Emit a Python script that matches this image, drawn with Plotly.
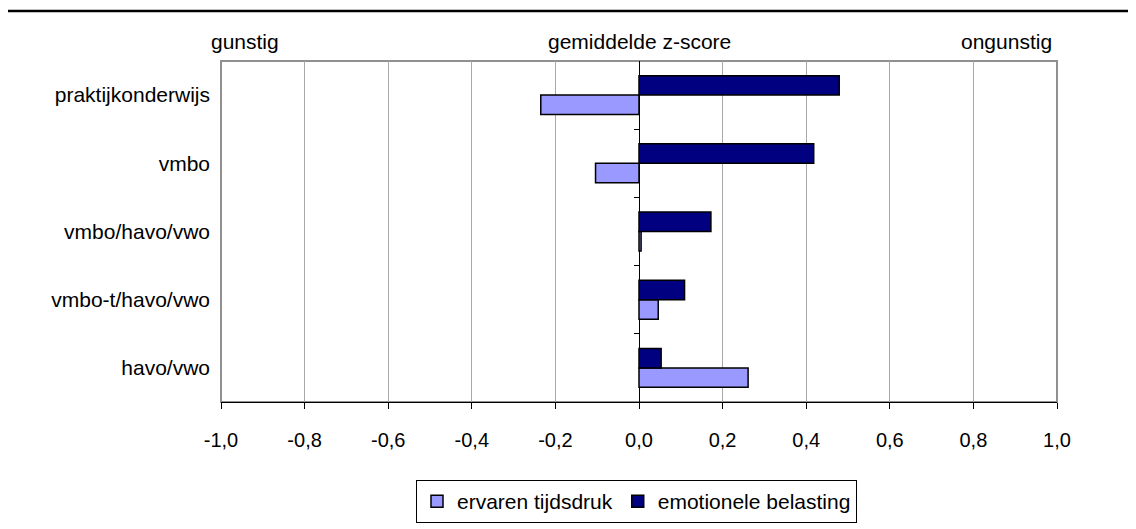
import plotly.graph_objects as go

categories = ["praktijkonderwijs", "vmbo", "vmbo/havo/vwo", "vmbo-t/havo/vwo", "havo/vwo"]
ervaren_tijdsdruk = [-0.235, -0.104, 0.005, 0.046, 0.261]
emotionele_belasting = [0.479, 0.418, 0.172, 0.109, 0.053]
x_tickvals = [-1.0, -0.8, -0.6, -0.4, -0.2, 0.0, 0.2, 0.4, 0.6, 0.8, 1.0]
x_ticktext = ["-1,0", "-0,8", "-0,6", "-0,4", "-0,2", "0,0", "0,2", "0,4", "0,6", "0,8", "1,0"]
boundary_ticks = [0.5, 1.5, 2.5, 3.5]

FONT = "Liberation Sans, Arial, sans-serif"
FS = 21

W, H = 1128, 521
L, R, T, B = 213, 79, 53, 127
PW, PH = W - L - R, H - T - B


def px(xp):  # page x -> paper
    return (xp - 8 - L) / PW


def py(yp):  # page y -> paper
    return (H - B - (yp - 8)) / PH


fig = go.Figure()
fig.add_trace(go.Bar(
    y=categories, x=ervaren_tijdsdruk, orientation="h", name="ervaren tijdsdruk",
    marker=dict(color="#9999FF", line=dict(color="black", width=1.5)),
))
fig.add_trace(go.Bar(
    y=categories, x=emotionele_belasting, orientation="h", name="emotionele belasting",
    marker=dict(color="#000080", line=dict(color="black", width=1.5)),
))
# helper trace for the tick marks along the zero line
fig.add_trace(go.Scatter(x=[0], y=[2], yaxis="y2", mode="markers",
                         marker=dict(opacity=0), showlegend=False, hoverinfo="skip"))

fig.update_layout(
    width=W, height=H,
    margin=dict(l=L, r=R, t=T, b=B, autoexpand=False),
    paper_bgcolor="white", plot_bgcolor="white",
    font=dict(family=FONT, size=FS, color="black"),
    barmode="group", bargap=0.43, bargroupgap=0,
    xaxis=dict(
        range=[-1.0, 1.0], tickvals=x_tickvals, ticktext=x_ticktext,
        tickfont=dict(size=20),
        showgrid=True, gridcolor="#A8A8A8", gridwidth=1,
        zeroline=True, zerolinecolor="black", zerolinewidth=1,
        showline=True, linecolor="black", linewidth=1,
        ticks="outside", ticklen=6, tickcolor="black", ticklabelstandoff=14,
        fixedrange=True, automargin=False,
    ),
    yaxis=dict(
        type="category", categoryorder="array", categoryarray=categories[::-1],
        range=[-0.5, 4.5],
        showgrid=False, zeroline=False, showline=False, ticks="",
        ticklabelstandoff=10, automargin=False,
    ),
    yaxis2=dict(
        overlaying="y", anchor="free", position=0.5, range=[-0.5, 4.5],
        tickvals=boundary_ticks, showticklabels=False,
        ticks="outside", ticklen=5, tickcolor="black",
        showgrid=False, zeroline=False, showline=False,
    ),
    legend=dict(
        orientation="h", x=px(636.5), xanchor="center", y=py(480), yanchor="top",
        bordercolor="black", borderwidth=1, font=dict(size=FS),
        itemwidth=30, traceorder="normal",
    ),
    shapes=[
        dict(type="rect", xref="paper", yref="paper", x0=0, x1=1, y0=0, y1=1,
             line=dict(color="#909090", width=2), layer="below"),
        dict(type="line", xref="paper", yref="paper", x0=-L / PW, x1=(W - L) / PW,
             y0=py(11), y1=py(11),
             line=dict(color="black", width=2.5)),
    ],
    annotations=[
        dict(text="gunstig", xref="paper", yref="paper", x=px(209), y=py(41),
             xanchor="left", yanchor="middle", showarrow=False),
        dict(text="gemiddelde z-score", xref="paper", yref="paper", x=0.5, y=py(41),
             xanchor="center", yanchor="middle", showarrow=False),
        dict(text="ongunstig", xref="paper", yref="paper", x=px(1054), y=py(41),
             xanchor="right", yanchor="middle", showarrow=False),
    ],
)

fig.write_html("out.html")
